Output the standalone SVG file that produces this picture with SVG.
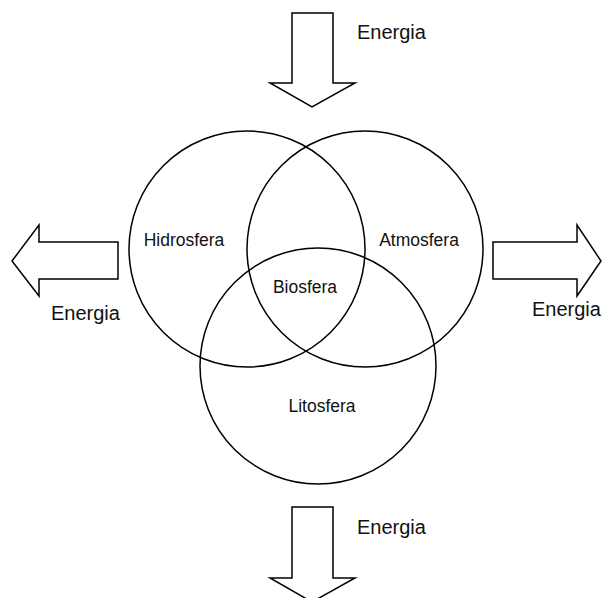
<svg xmlns="http://www.w3.org/2000/svg" width="604" height="598" viewBox="0 0 604 598">
<style>
.shape{fill:none;stroke:#000;stroke-width:1.5}
.arrow{fill:#fff;stroke:#000;stroke-width:1.5;stroke-linejoin:miter}
.lbl{font-family:"Liberation Sans",Arial,sans-serif;font-size:17.5px;fill:#111;text-anchor:middle}
.en{font-family:"Liberation Sans",Arial,sans-serif;font-size:20px;fill:#111}
</style>
<rect width="604" height="598" fill="#fff"/>
<g id="hidrosfera"><circle class="shape" cx="247" cy="249" r="118"/><text class="lbl" x="184" y="246">Hidrosfera</text></g>
<g id="atmosfera"><circle class="shape" cx="365" cy="249" r="118"/><text class="lbl" x="419" y="246">Atmosfera</text></g>
<g id="litosfera"><circle class="shape" cx="318" cy="366" r="118"/><text class="lbl" x="322" y="412">Litosfera</text></g>
<g id="biosfera"><text class="lbl" x="305" y="293">Biosfera</text></g>
<g id="connectors">
<g id="energia-top"><polygon class="arrow" points="292,13 333,13 333,83 355,83 312,107 270,83 292,83"/><text class="en" x="357" y="39">Energia</text></g>
<g id="energia-left"><polygon class="arrow" points="118,242 39,242 39,225 12,261 39,296 39,279 118,279"/><text class="en" x="51" y="320">Energia</text></g>
<g id="energia-right"><polygon class="arrow" points="493,242 577,242 577,225 601,261 577,296 577,279 493,279"/><text class="en" x="532" y="316">Energia</text></g>
<g id="energia-bottom"><polygon class="arrow" points="292,507 333,507 333,578 355,578 312,602 270,578 292,578"/><text class="en" x="357" y="534">Energia</text></g>
</g>
</svg>
